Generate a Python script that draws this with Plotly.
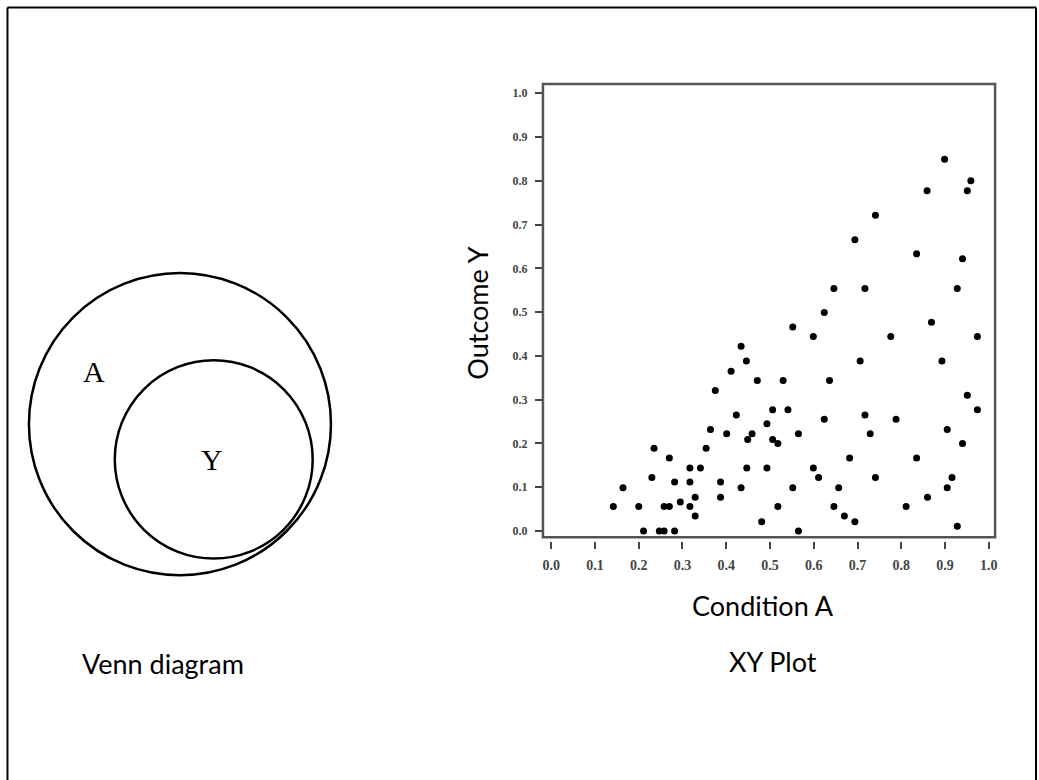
import plotly.graph_objects as go

# ---------------- data ----------------
condition_a = [
    0.375, 0.423, 0.493, 0.364, 0.401, 0.459, 0.449, 0.235, 0.354, 0.270,
    0.317, 0.341, 0.447, 0.493, 0.230, 0.164, 0.282, 0.317, 0.387, 0.434,
    0.329, 0.387, 0.142, 0.200, 0.258, 0.270, 0.295, 0.317, 0.329, 0.481,
    0.211, 0.247, 0.258, 0.282, 0.471, 0.434, 0.446, 0.411,
    0.530, 0.636, 0.951, 0.974, 0.506, 0.541, 0.717, 0.788, 0.624, 0.905,
    0.565, 0.729, 0.506, 0.518, 0.940, 0.682, 0.835, 0.599, 0.611, 0.741,
    0.916, 0.552, 0.657, 0.905, 0.860, 0.518, 0.646, 0.811, 0.670, 0.694,
    0.928, 0.565,
    0.899, 0.959, 0.859, 0.951, 0.741, 0.694, 0.835, 0.940, 0.646, 0.717,
    0.928, 0.624, 0.552, 0.869, 0.599, 0.776, 0.974, 0.706, 0.893,
]
outcome_y = [
    0.321, 0.265, 0.245, 0.232, 0.222, 0.222, 0.209, 0.189, 0.189, 0.167,
    0.144, 0.144, 0.144, 0.144, 0.122, 0.099, 0.112, 0.112, 0.112, 0.099,
    0.077, 0.077, 0.056, 0.056, 0.056, 0.056, 0.066, 0.056, 0.034, 0.021,
    0.000, 0.000, 0.000, 0.000, 0.344, 0.422, 0.388, 0.365,
    0.344, 0.344, 0.310, 0.277, 0.277, 0.277, 0.265, 0.255, 0.255, 0.232,
    0.222, 0.222, 0.209, 0.200, 0.200, 0.167, 0.167, 0.144, 0.122, 0.122,
    0.122, 0.099, 0.099, 0.099, 0.077, 0.056, 0.056, 0.056, 0.034, 0.021,
    0.011, 0.000,
    0.849, 0.800, 0.777, 0.777, 0.721, 0.665, 0.633, 0.622, 0.554, 0.554,
    0.554, 0.499, 0.466, 0.477, 0.444, 0.444, 0.444, 0.388, 0.388,
]
tick_values = [0.0, 0.1, 0.2, 0.3, 0.4, 0.5, 0.6, 0.7, 0.8, 0.9, 1.0]
tick_labels = ["0.0", "0.1", "0.2", "0.3", "0.4", "0.5", "0.6", "0.7", "0.8", "0.9", "1.0"]

x_title = "Condition A"
y_title = "Outcome Y"
venn_outer_label = "A"
venn_inner_label = "Y"
left_caption = "Venn diagram"
right_caption = "XY Plot"

# ---------------- layout helpers ----------------
W, H = 1039, 780


def fx(px):
    return px / W


def fy(py):
    return 1 - py / H


SANS = "Lato"
SERIF = "Liberation Serif"

fig = go.Figure()
fig.add_trace(go.Scatter(
    x=condition_a, y=outcome_y, mode="markers",
    marker=dict(size=7, color="#000000", line=dict(width=0)),
    showlegend=False, hoverinfo="x+y",
))

fig.update_layout(
    width=W, height=H,
    margin=dict(l=0, r=0, t=0, b=0),
    paper_bgcolor="white", plot_bgcolor="white",
    xaxis=dict(
        domain=[fx(544), fx(997)],
        range=[-0.0189, 1.0144],
        tickvals=tick_values, ticktext=tick_labels,
        ticks="outside", ticklen=7, tickwidth=2, tickcolor="#444",
        showline=False, showgrid=False, zeroline=False,
        anchor="free", position=fy(541.5),
        tickfont=dict(family=SERIF, size=14, color="#444", weight="bold"),
        ticklabelstandoff=4,
    ),
    yaxis=dict(
        domain=[fy(538), fy(84)],
        range=[-0.0144, 1.0212],
        tickvals=tick_values, ticktext=tick_labels,
        ticks="outside", ticklen=7, tickwidth=2, tickcolor="#444",
        showline=False, showgrid=False, zeroline=False,
        tickfont=dict(family=SERIF, size=12, color="#444", weight="bold"),
        ticklabelstandoff=5,
    ),
)

shapes = [
    # scatter frame
    dict(type="rect", xref="x domain", yref="y domain", x0=0, x1=1, y0=0, y1=1,
         line=dict(color="#555", width=2.5), fillcolor="rgba(0,0,0,0)", layer="above"),
    # venn circles
    dict(type="circle", xref="paper", yref="paper",
         x0=fx(29), x1=fx(331.6), y0=fy(576), y1=fy(273.4),
         line=dict(color="black", width=2.5)),
    dict(type="circle", xref="paper", yref="paper",
         x0=fx(115), x1=fx(313.3), y0=fy(559.3), y1=fy(360.7),
         line=dict(color="black", width=2.5)),
    # outer page border (left, top, right)
    dict(type="line", xref="paper", yref="paper", x0=fx(7.5), x1=fx(7.5), y0=fy(7.5), y1=fy(800),
         line=dict(color="black", width=2)),
    dict(type="line", xref="paper", yref="paper", x0=fx(7.5), x1=fx(1038), y0=fy(7.5), y1=fy(7.5),
         line=dict(color="black", width=2)),
    dict(type="line", xref="paper", yref="paper", x0=fx(1038), x1=fx(1038), y0=fy(7.5), y1=fy(800),
         line=dict(color="black", width=2)),
]
fig.update_layout(shapes=shapes)


def label(text, px, py, family, size, angle=0):
    fig.add_annotation(
        text=text, x=fx(px), y=fy(py), xref="paper", yref="paper",
        xanchor="center", yanchor="middle", showarrow=False, textangle=angle,
        font=dict(family=family, size=size, color="black"),
    )


label(venn_outer_label, 94.3, 371.7, SERIF, 30)
label(venn_inner_label, 212.8, 460, SERIF, 30)
label(left_caption, 163.5, 664.5, SANS, 27)
label(x_title, 764, 606, SANS, 27)
label(right_caption, 774.6, 662, SANS, 27)
label(y_title, 479, 314, SANS, 27, angle=-90)

fig.write_html(
    "out.html",
    config={"displayModeBar": False},
    post_script="document.body.style.margin='0';document.body.style.overflow='hidden';",
)
